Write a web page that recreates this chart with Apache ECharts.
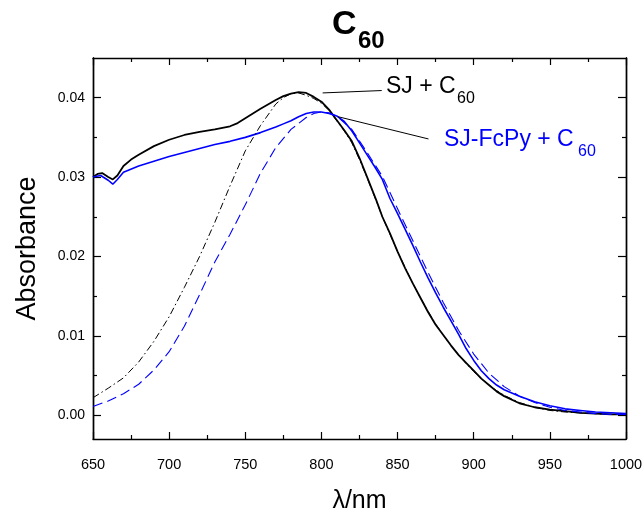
<!DOCTYPE html>
<html>
<head>
<meta charset="utf-8">
<script src="https://cdn.jsdelivr.net/npm/echarts@6/dist/echarts.min.js"></script>
<style>
  html, body { margin: 0; padding: 0; background: #fff; }
  #chart { width: 644px; height: 516px; }
</style>
</head>
<body>
<div id="chart"></div>
<script>
// Absorption spectra (wavelength in nm, absorbance)
const sjC60 = [
  [650, 0.0300], [653, 0.0304], [656, 0.0305], [660, 0.0300], [663, 0.0297],
  [666, 0.0302], [670, 0.0314], [675, 0.0322], [680, 0.0328], [690, 0.0339],
  [700, 0.0347], [710, 0.0353], [720, 0.0357], [730, 0.0360], [740, 0.0364],
  [745, 0.0368], [750, 0.0374], [760, 0.0386], [770, 0.0397], [775, 0.0402],
  [780, 0.0405], [785, 0.0407], [790, 0.0406], [795, 0.0401], [800, 0.0395],
  [805, 0.0385], [810, 0.0372], [815, 0.0359], [820, 0.0345], [825, 0.0324],
  [830, 0.0300], [836, 0.0271], [840, 0.0250], [845, 0.0229], [850, 0.0206],
  [855, 0.0185], [860, 0.0166], [865, 0.0148], [870, 0.0130], [875, 0.0114],
  [880, 0.0101], [885, 0.0088], [890, 0.0076], [895, 0.0066], [900, 0.0056],
  [905, 0.0046], [910, 0.0038], [915, 0.0030], [920, 0.0024], [930, 0.0015],
  [940, 0.0010], [950, 0.0007], [960, 0.0005], [970, 0.0003], [980, 0.0002],
  [990, 0.0001], [1000, 0.0001]
];

const fcpyC60 = [
  [650, 0.0300], [655, 0.0302], [660, 0.0296], [663, 0.0291], [666, 0.0297],
  [670, 0.0306], [680, 0.0314], [690, 0.0320], [700, 0.0326], [710, 0.0331],
  [720, 0.0336], [730, 0.0341], [740, 0.0345], [750, 0.0350], [760, 0.0356],
  [770, 0.0363], [775, 0.0367], [780, 0.0371], [785, 0.0376], [790, 0.0380],
  [795, 0.0382], [800, 0.0382], [805, 0.0380], [810, 0.0377], [815, 0.0370],
  [820, 0.0358], [825, 0.0343], [830, 0.0328], [835, 0.0313], [840, 0.0297],
  [845, 0.0273], [850, 0.0254], [855, 0.0234], [860, 0.0214], [865, 0.0193],
  [870, 0.0173], [875, 0.0154], [880, 0.0136], [885, 0.0119], [890, 0.0102],
  [895, 0.0084], [900, 0.0069], [905, 0.0056], [910, 0.0046], [915, 0.0038],
  [920, 0.0032], [930, 0.0024], [940, 0.0017], [950, 0.0012], [960, 0.0008],
  [970, 0.0006], [980, 0.0004], [990, 0.0003], [1000, 0.0002]
];

// Fitted band profiles
const sjFit = [
  [650, 0.0022], [660, 0.0034], [670, 0.0047], [680, 0.0067], [690, 0.0093],
  [700, 0.0124], [710, 0.0161], [720, 0.0200], [730, 0.0243], [740, 0.0289],
  [750, 0.0333], [760, 0.0365], [770, 0.0392], [775, 0.0400], [780, 0.0405],
  [785, 0.0406], [790, 0.0403], [795, 0.0399], [800, 0.0393], [805, 0.0384],
  [810, 0.0371], [815, 0.0358], [820, 0.0343], [825, 0.0322], [830, 0.0299],
  [836, 0.0270], [840, 0.0250], [845, 0.0228], [850, 0.0206], [855, 0.0186],
  [860, 0.0166], [865, 0.0148], [870, 0.0131], [875, 0.0115], [880, 0.0101],
  [885, 0.0088], [890, 0.0076], [895, 0.0065], [900, 0.0055], [905, 0.0046],
  [910, 0.0038], [915, 0.0031], [920, 0.0025], [930, 0.0016], [940, 0.0010],
  [950, 0.0006], [960, 0.0004], [970, 0.0003], [980, 0.0002], [990, 0.0001],
  [1000, 0.0001]
];

const fcpyFit = [
  [650, 0.0011], [660, 0.0018], [670, 0.0027], [680, 0.0039], [690, 0.0057],
  [700, 0.0080], [710, 0.0112], [720, 0.0152], [730, 0.0193], [740, 0.0228],
  [750, 0.0265], [760, 0.0305], [770, 0.0337], [780, 0.0360], [790, 0.0375],
  [795, 0.0380], [800, 0.0382], [805, 0.0381], [810, 0.0377], [820, 0.0360],
  [830, 0.0331], [840, 0.0301], [850, 0.0260], [860, 0.0220], [870, 0.0180],
  [880, 0.0142], [890, 0.0107], [900, 0.0077], [910, 0.0053], [920, 0.0036],
  [930, 0.0024], [940, 0.0016], [950, 0.0010], [960, 0.0006], [970, 0.0004],
  [980, 0.0002], [990, 0.0001], [1000, 0.0001]
];

// Axis ticks
const yMajorTicks = [0, 0.01, 0.02, 0.03, 0.04];
const yMinorTicks = [0.005, 0.015, 0.025, 0.035];
const xRange = [650, 1000];
const yRange = [-0.003, 0.045];

// Leader lines from each curve to its caption
const sjLeader = [[800.8, 0.0406], [839.6, 0.0409]];
const fcpyLeader = [[811, 0.0376], [870.3, 0.0348]];

const FONT = 'Liberation Sans, Arial, Helvetica, sans-serif';
const AX = '#000';

const chart = echarts.init(document.getElementById('chart'), null, { renderer: 'canvas' });

function yAxisDef(position, ticks, len, withLabels, extra) {
  return Object.assign({
    type: 'value',
    position: position,
    min: yRange[0],
    max: yRange[1],
    axisLine: { show: true, onZero: false, lineStyle: { color: AX, width: 1.4 } },
    axisTick: { show: true, inside: true, length: len, customValues: ticks, lineStyle: { color: AX, width: 1.2 } },
    axisLabel: withLabels ? {
      show: true, customValues: yMajorTicks, margin: 8,
      fontFamily: FONT, fontSize: 14, color: '#000',
      formatter: v => v.toFixed(2)
    } : { show: false },
    splitLine: { show: false }
  }, extra || {});
}

function xAxisDef(position, withLabels, extra) {
  return Object.assign({
    type: 'value',
    position: position,
    min: xRange[0],
    max: xRange[1],
    interval: 50,
    axisLine: { show: true, onZero: false, lineStyle: { color: AX, width: 1.4 } },
    axisTick: { show: true, inside: true, length: 7, lineStyle: { color: AX, width: 1.2 } },
    minorTick: { show: true, splitNumber: 2, length: 4, lineStyle: { color: AX, width: 1.2 } },
    axisLabel: withLabels ? {
      show: true, margin: 18, fontFamily: FONT, fontSize: 14.5, color: '#000',
      formatter: v => String(v)
    } : { show: false },
    splitLine: { show: false },
    minorSplitLine: { show: false }
  }, extra || {});
}

const option = {
  animation: false,
  backgroundColor: '#fff',
  grid: { left: 93, right: 18, top: 58, bottom: 77, containLabel: false, outerBoundsMode: 'none' },
  xAxis: [
    xAxisDef('bottom', true, {
      name: 'λ/nm', nameLocation: 'middle', nameGap: 50,
      nameTextStyle: { fontFamily: FONT, fontSize: 25, color: '#000' }
    }),
    xAxisDef('top', false)
  ],
  yAxis: [
    yAxisDef('left', yMajorTicks, 8, true, {
      name: 'Absorbance', nameLocation: 'middle', nameGap: 52,
      nameTextStyle: { fontFamily: FONT, fontSize: 27, color: '#000' }
    }),
    yAxisDef('left', yMinorTicks, 4, false),
    yAxisDef('right', yMajorTicks, 8, false),
    yAxisDef('right', yMinorTicks, 4, false)
  ],
  series: [
    {
      name: 'SJ + C60 fit', type: 'line', data: sjFit, showSymbol: false,
      lineStyle: { color: '#000', width: 1, type: [7, 3, 1.5, 3] }, z: 3
    },
    {
      name: 'SJ-FcPy + C60 fit', type: 'line', data: fcpyFit, showSymbol: false,
      lineStyle: { color: '#0000ff', width: 1.1, type: [10, 5] }, z: 3
    },
    {
      name: 'SJ + C60', type: 'line', data: sjC60, showSymbol: false,
      lineStyle: { color: '#000', width: 1.8 }, z: 2,
      markLine: {
        silent: true, symbol: 'none', label: { show: false },
        lineStyle: { color: '#000', width: 1, type: 'solid' },
        data: [[{ coord: sjLeader[0] }, { coord: sjLeader[1] }]]
      }
    },
    {
      name: 'SJ-FcPy + C60', type: 'line', data: fcpyC60, showSymbol: false,
      lineStyle: { color: '#0000ff', width: 1.6 }, z: 2,
      markLine: {
        silent: true, symbol: 'none', label: { show: false },
        lineStyle: { color: '#000', width: 1, type: 'solid' },
        data: [[{ coord: fcpyLeader[0] }, { coord: fcpyLeader[1] }]]
      }
    }
  ],
  graphic: [
    // Title: C with subscript 60
    { type: 'text', left: 332, top: 8, style: { text: 'C', font: 'bold 34px ' + FONT, fill: '#000' } },
    { type: 'text', left: 358, top: 29, style: { text: '60', font: 'bold 24px ' + FONT, fill: '#000' } },
    // Curve captions
    { type: 'text', left: 386, top: 75, style: { text: 'SJ + C', font: '23px ' + FONT, fill: '#000' } },
    { type: 'text', left: 457, top: 91, style: { text: '60', font: '16px ' + FONT, fill: '#000' } },
    { type: 'text', left: 444, top: 128, style: { text: 'SJ-FcPy + C', font: '23px ' + FONT, fill: '#0000ff' } },
    { type: 'text', left: 578, top: 144, style: { text: '60', font: '16px ' + FONT, fill: '#0000ff' } }
  ]
};

chart.setOption(option);
</script>
</body>
</html>
